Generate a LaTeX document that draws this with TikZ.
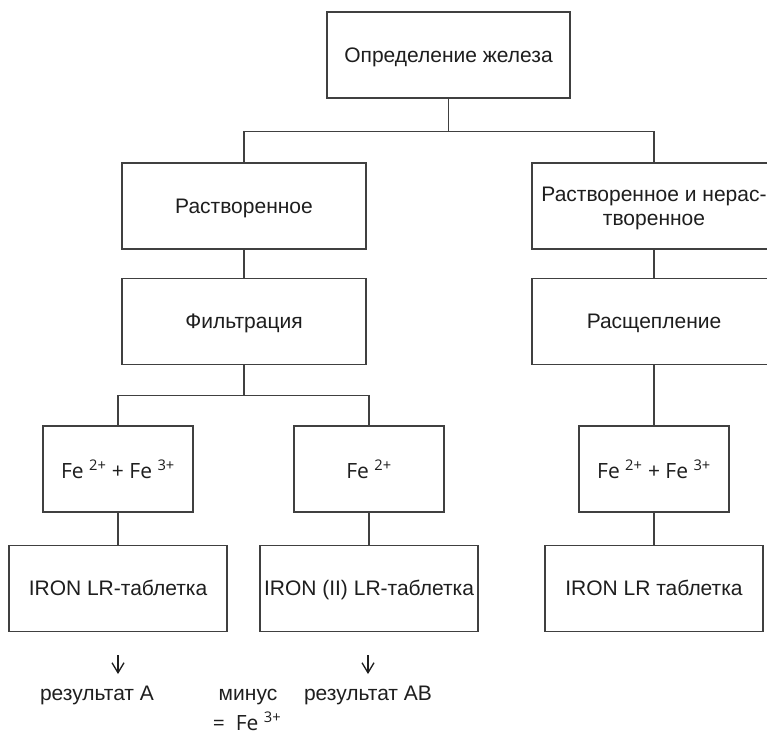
\documentclass[tikz,border=0pt]{standalone}
\usepackage{fontspec}
\setmainfont{Liberation Sans}
\newfontfamily\fefont{Open Sans}
\usepackage{tikz}
\usetikzlibrary{arrows.meta, positioning}
\definecolor{LineGray}{RGB}{64, 64, 64}
\definecolor{TextGray}{RGB}{30, 30, 30}

\begin{document}
\begin{tikzpicture}[
    x=1pt, y=-1pt,
    node distance=28pt and 30pt,
    box/.style={rectangle, draw=LineGray, line width=1.2pt, fill=white, minimum width=244pt, minimum height=86pt, align=center, inner sep=2pt, text depth=0pt, text=TextGray, font=\fontsize{21}{24}\selectfont},
    febox/.style={box, minimum width=150pt, font=\fefont\fontsize{21}{25}\selectfont},
    tabbox/.style={box, minimum width=218pt},
    result/.style={anchor=base, text=TextGray, font=\fontsize{21}{24}\selectfont},
    line/.style={draw=LineGray, line width=1.2pt},
    arrow/.style={draw=TextGray, line width=1.3pt, -{Straight Barb[length=10pt, width=12pt]}}
]
    \useasboundingbox (0,0) rectangle (767,736);

    % Wurzel
    \node[box, minimum width=243pt] (iron) at (448.5,55) {Определение железа};

    % Linker Zweig
    \node[box] (solv) at (244,206) {Растворенное};
    \node[box, below=of solv] (filt) {Фильтрация};
    \node[febox] (feA) at (118,469) {Fe \textsuperscript{2+} + Fe \textsuperscript{3+}};
    \node[febox] (feB) at (369,469) {Fe \textsuperscript{2+}};
    \node[tabbox, below=32pt of feA] (tabA) {IRON LR-таблетка};
    \node[tabbox, below=32pt of feB] (tabB) {IRON (II) LR-таблетка};

    % Rechter Zweig
    \node[box] (mixed) at (654,206) {Растворенное и нерас-\\творенное};
    \node[box, below=of mixed] (split) {Расщепление};
    \node[febox] (feC) at (654,469) {Fe \textsuperscript{2+} + Fe \textsuperscript{3+}};
    \node[tabbox, below=32pt of feC] (tabC) {IRON LR таблетка};

    % Ergebnisse
    \coordinate (arrA1) at (118,655);
    \coordinate (arrA2) at (118,674);
    \coordinate (arrB1) at (368,655);
    \coordinate (arrB2) at (368,674);
    \node[result] (resA) at (97,700) {результат A};
    \node[result] (minus) at (248,700) {минус};
    \node[result] (resAB) at (368,700) {результат AB};
    \node[result, font=\fefont\fontsize{21}{25}\selectfont] (diff) at (247,730) {=\ \ Fe \textsuperscript{3+}};

    % Verbindungen
    \draw[line] (iron.south) -- ++(0,33) -| (solv.north);
    \draw[line] (iron.south) ++(0,33) -| (mixed.north);
    \draw[line] (solv) -- (filt);
    \draw[line] (filt.south) -- ++(0,31) -| (feA.north);
    \draw[line] (filt.south) ++(0,31) -| (feB.north);
    \draw[line] (feA) -- (tabA);
    \draw[line] (feB) -- (tabB);
    \draw[line] (mixed) -- (split);
    \draw[line] (split) -- (feC);
    \draw[line] (feC) -- (tabC);
    \draw[arrow] (arrA1) -- (arrA2);
    \draw[arrow] (arrB1) -- (arrB2);
\end{tikzpicture}
\end{document}
